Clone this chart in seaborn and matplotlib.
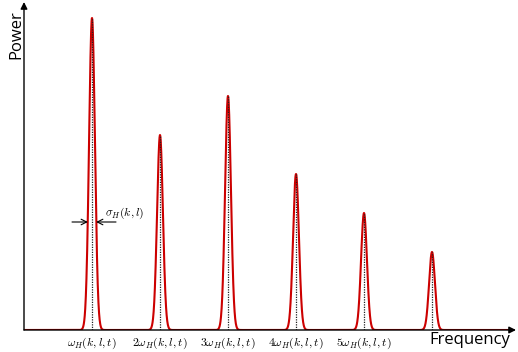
import numpy as np
import pandas as pd
import matplotlib
matplotlib.use("Agg")
import matplotlib.pyplot as plt
import seaborn as sns

# Data
harmonics = [1, 2, 3, 4, 5, 6]
amplitudes = [1.0, 0.625, 0.75, 0.5, 0.375, 0.25]
sigma = 0.043
tick_labels = [r"$\omega_H(k,l,t)$", r"$2\omega_H(k,l,t)$", r"$3\omega_H(k,l,t)$",
               r"$4\omega_H(k,l,t)$", r"$5\omega_H(k,l,t)$", ""]

freq = np.linspace(0, 7.2, 4000)
power = np.zeros_like(freq)
for c, a in zip(harmonics, amplitudes):
    power += a * np.exp(-(freq - c) ** 2 / (2 * sigma ** 2))
df = pd.DataFrame({"Frequency": freq, "Power": power})

sns.set_style("white")
plt.rcParams["mathtext.fontset"] = "cm"
plt.rcParams["font.family"] = ["Open Sans", "DejaVu Sans"]
plt.rcParams["text.color"] = "black"
plt.rcParams["xtick.color"] = "black"

fig = plt.figure(figsize=(5.18, 3.52), dpi=100)
ax = fig.add_axes([24 / 518, 22 / 352, 492 / 518, 328 / 352])

sns.lineplot(data=df, x="Frequency", y="Power", ax=ax, color="#cc0000", lw=1.5)
ax.vlines(harmonics, 0, amplitudes, colors="#222222", linestyles=(0, (1, 1)), lw=0.9, zorder=3)

ax.set_xlim(0, 492 / 68)
ax.set_ylim(0, 328 / 312)
for s in ax.spines.values():
    s.set_visible(False)
ax.set_xlabel("")
ax.set_ylabel("")
ax.set_xticks(harmonics)
ax.set_xticklabels(tick_labels, fontsize=8.5, color="black")
ax.tick_params(length=0, pad=4)
ax.set_yticks([])

# Axes arrows
ax.annotate("", xy=(1.0, 0), xytext=(0, 0), xycoords="axes fraction",
            arrowprops=dict(arrowstyle="-|>", color="black", lw=1, mutation_scale=10,
                            shrinkA=0, shrinkB=0), zorder=5)
ax.annotate("", xy=(0, 1.0), xytext=(0, 0), xycoords="axes fraction",
            arrowprops=dict(arrowstyle="-|>", color="black", lw=1, mutation_scale=10,
                            shrinkA=0, shrinkB=0), zorder=5)
fig.text(16 / 518, 1 - 35 / 352, "Power", rotation=90, ha="center", va="center",
         fontsize=12, color="black")
fig.text(470 / 518, 1 - 340 / 352, "Frequency", ha="center", va="center",
         fontsize=12, color="black")

# sigma annotation
ya = (330 - 222) / 312
ax.annotate("", xy=(1 - 0.06, ya), xytext=(0.706, ya),
            arrowprops=dict(arrowstyle="->", color="black", lw=0.8, shrinkA=0, shrinkB=0))
ax.annotate("", xy=(1 + 0.06, ya), xytext=(1.353, ya),
            arrowprops=dict(arrowstyle="->", color="black", lw=0.8, shrinkA=0, shrinkB=0))
ax.text(1.19, (330 - 213) / 312, r"$\sigma_H(k,l)$", fontsize=8.5, ha="left", va="center",
        color="black")

fig.savefig("out.png", dpi=100)
